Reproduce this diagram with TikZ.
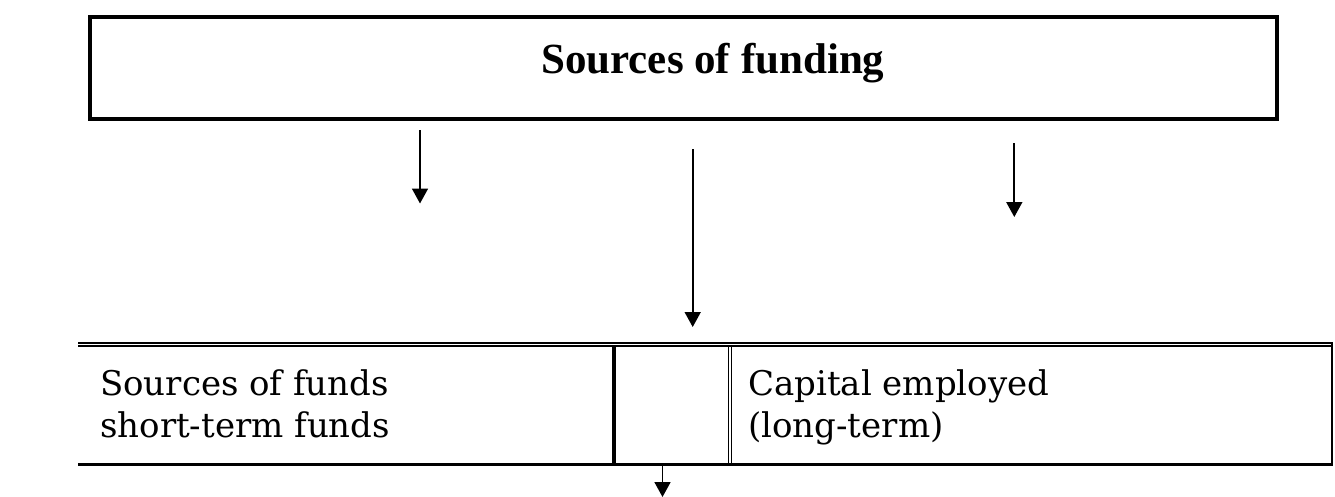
\documentclass[tikz,border=0pt]{standalone}
\usepackage{fontspec}
\setmainfont{DejaVu Serif}
\newfontfamily\titlefont{Liberation Serif}
\usetikzlibrary{arrows.meta}
\begin{document}
\begin{tikzpicture}[x=1pt,y=-1pt,
  arr/.style={line width=1.7pt,-{Triangle[length=15pt,width=16pt]}},
  boxline/.style={line width=4pt},
  celltext/.style={anchor=base west,inner sep=0pt,font=\fontsize{34}{42}\selectfont},
]
\useasboundingbox (0,0) rectangle (1335,496);
% top box
\node[draw,line width=4pt,minimum width=1187pt,minimum height=102pt,inner sep=0pt,anchor=north west] (top) at (87.5,15) {};
\node[anchor=base west,inner sep=0pt,font=\titlefont\bfseries\fontsize{43}{50}\selectfont] (title) at (541,73) {Sources of funding};
% arrows
\coordinate (a1s) at (420,130); \coordinate (a1e) at (420,203.5);
\coordinate (a2s) at (692.7,149); \coordinate (a2e) at (692.7,327);
\coordinate (a3s) at (1014.3,143); \coordinate (a3e) at (1014.3,217);
\coordinate (a4s) at (662.5,466); \coordinate (a4e) at (662.5,497);
\draw[arr] (a1s) -- (a1e);
\draw[arr] (a2s) -- (a2e);
\draw[arr] (a3s) -- (a3e);
\draw[arr] (a4s) -- (a4e);
% table
\draw[line width=1.6pt] (78,343.2) -- (1333.3,343.2);
\draw[line width=1.2pt] (78,346) -- (1330.7,346);
\draw[line width=3.6pt] (78,464.5) -- (1333.3,464.5);
\draw[line width=2.7pt] (1332,342.4) -- (1332,466.3);
\draw[line width=3.4pt] (614,346) -- (614,463);
\draw[line width=1.3pt] (728.4,346) -- (728.4,463);
\draw[line width=1.3pt] (731.4,346) -- (731.4,463);
% cell texts
\node[celltext] (l1) at (100,395) {Sources of funds};
\node[celltext] (l2) at (100,437) {short-term funds};
\node[celltext] (r1) at (748,395) {Capital employed};
\node[celltext] (r2) at (748,437) {(long-term)};
\end{tikzpicture}
\end{document}
